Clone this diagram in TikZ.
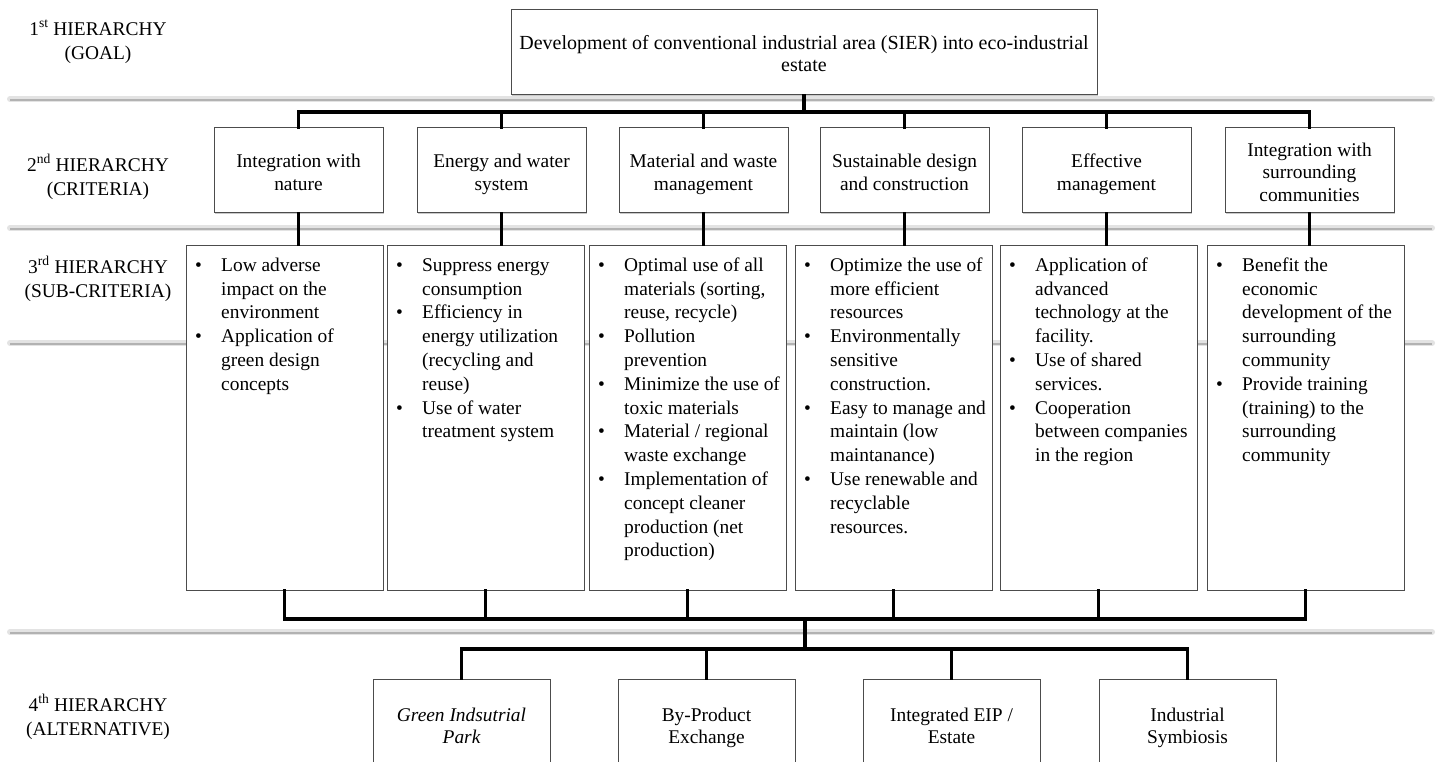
\documentclass[tikz,border=0pt]{standalone}
\usepackage{fontspec}
\setmainfont{Liberation Serif}
\usetikzlibrary{shadows}
\newcommand{\myb}{\makebox[26pt][l]{\textbullet}}
\newcommand{\myc}{\hspace*{26pt}}
\newcommand{\mys}{\rule{0pt}{14pt}}
\newcommand{\fsk}[1]{\rule{0pt}{#1}}
\newcommand{\lsk}{\rule[-4.5pt]{0pt}{0pt}}
\begin{document}
\begin{tikzpicture}[x=1pt,y=-1pt,
  box/.style={draw=black!70, line width=1pt, fill=white, inner sep=0pt,
    drop shadow={shadow xshift=1.3pt, shadow yshift=-1.3pt, opacity=0.35, fill=black!60}},
  kbox/.style={box, minimum width=169pt, minimum height=85pt, align=center,
    font=\fontsize{19.4}{22}\selectfont},
  sbox/.style={box, minimum width=197pt, minimum height=345pt},
  abox/.style={box, minimum width=177pt, minimum height=98pt, align=center,
    font=\fontsize{19.4}{22.5}\selectfont},
  btxt/.style={anchor=north west, inner sep=0pt, align=left,
    font=\fontsize{19.4}{23.8}\selectfont},
  lbl/.style={align=center, inner sep=0pt, font=\fontsize{19.4}{24}\selectfont},
  conn/.style={line width=3.2pt, black, line cap=rect, line join=miter},
  sepa/.style={line width=6pt, black!11, line cap=round},
  sepb/.style={line width=2pt, black!30}
]
\useasboundingbox (0,0) rectangle (1437,762);
\clip (0,0) rectangle (1437,762);
\fill[white] (0,0) rectangle (1437,762);

% separator bands
\foreach \yy in {99,228,343,632}{
  \draw[sepa] (10,\yy) -- (1432,\yy);
  \draw[sepb] (10,\yy+0.8) -- (1432,\yy+0.8);
}

% left labels
\node[lbl] (h1) at (98,42) {1\textsuperscript{st} HIERARCHY\\(GOAL)};
\node[lbl] (h2) at (98,177) {2\textsuperscript{nd} HIERARCHY\\(CRITERIA)};
\node[lbl] (h3) at (98,279) {3\textsuperscript{rd} HIERARCHY\\(SUB-CRITERIA)};
\node[lbl] (h4) at (98,717) {4\textsuperscript{th} HIERARCHY\\(ALTERNATIVE)};

% goal
\node[box, minimum width=586pt, minimum height=85pt, align=center,
  font=\fontsize{20}{22}\selectfont] (g) at (804,52.5)
  {\fsk{20.5pt}Development of conventional industrial area (SIER) into eco-industrial\\estate\lsk};

% criteria
\node[kbox] (k1) at (298.5,170.5) {\fsk{21.5pt}Integration with\\nature\lsk};
\node[kbox] (k2) at (501.5,170.5) {\fsk{21.5pt}Energy and water\\system\lsk};
\node[kbox] (k3) at (703.5,170.5) {\fsk{21.5pt}Material and waste\\management\lsk};
\node[kbox] (k4) at (904.5,170.5) {\fsk{21.5pt}Sustainable design\\and construction\lsk};
\node[kbox] (k5) at (1106.5,170.5) {\fsk{21.5pt}Effective\\management\lsk};
\node[kbox] (k6) at (1309.5,170.5) {\fsk{21.5pt}Integration with\\surrounding\\communities\lsk};

% sub-criteria boxes
\node[sbox] (s1) at (284.5,417.5) {};
\node[sbox] (s2) at (485.5,417.5) {};
\node[sbox] (s3) at (687.5,417.5) {};
\node[sbox] (s4) at (893.5,417.5) {};
\node[sbox] (s5) at (1098.5,417.5) {};
\node[sbox] (s6) at (1305.5,417.5) {};

\node[btxt] (t1) at (195,257) {\mys\myb Low adverse\\ \myc impact on the\\ \myc environment\\
  \myb Application of\\ \myc green design\\ \myc concepts};
\node[btxt] (t2) at (396,257) {\mys\myb Suppress energy\\ \myc consumption\\
  \myb Efficiency in\\ \myc energy utilization\\ \myc (recycling and\\ \myc reuse)\\
  \myb Use of water\\ \myc treatment system};
\node[btxt] (t3) at (598,257) {\mys\myb Optimal use of all\\ \myc materials (sorting,\\ \myc reuse, recycle)\\
  \myb Pollution\\ \myc prevention\\
  \myb Minimize the use of\\ \myc toxic materials\\
  \myb Material / regional\\ \myc waste exchange\\
  \myb Implementation of\\ \myc concept cleaner\\ \myc production (net\\ \myc production)};
\node[btxt] (t4) at (804,257) {\mys\myb Optimize the use of\\ \myc more efficient\\ \myc resources\\
  \myb Environmentally\\ \myc sensitive\\ \myc construction.\\
  \myb Easy to manage and\\ \myc maintain (low\\ \myc maintanance)\\
  \myb Use renewable and\\ \myc recyclable\\ \myc resources.};
\node[btxt] (t5) at (1009,257) {\mys\myb Application of\\ \myc advanced\\ \myc technology at the\\ \myc facility.\\
  \myb Use of shared\\ \myc services.\\
  \myb Cooperation\\ \myc between companies\\ \myc in the region};
\node[btxt] (t6) at (1216,257) {\mys\myb Benefit the\\ \myc economic\\ \myc development of the\\ \myc surrounding\\ \myc community\\
  \myb Provide training\\ \myc (training) to the\\ \myc surrounding\\ \myc community};

% alternatives
\node[abox] (a1) at (461.5,728) {\fsk{13.5pt}\itshape Green Indsutrial\\\itshape Park\lsk};
\node[abox] (a2) at (706.5,728) {\fsk{13.5pt}By-Product\\Exchange\lsk};
\node[abox] (a3) at (951.5,728) {\fsk{13.5pt}Integrated EIP /\\Estate\lsk};
\node[abox] (a4) at (1187.5,728) {\fsk{13.5pt}Industrial\\Symbiosis\lsk};

% connectors
\coordinate (b1) at (804,112);
\coordinate (b2) at (805,619);
\coordinate (b3) at (805,649);
\draw[conn] (g.south) -- (b1);
\foreach \i in {1,...,6}{
  \draw[conn] (k\i.north) |- (b1);
  \draw[conn] (k\i.south) -- (k\i.south |- s\i.north);
  \draw[conn] (s\i.south) |- (b2);
}
\draw[conn] (b2) -- (b3);
\foreach \i in {1,...,4}{
  \draw[conn] (a\i.north) |- (b3);
}
\end{tikzpicture}
\end{document}
